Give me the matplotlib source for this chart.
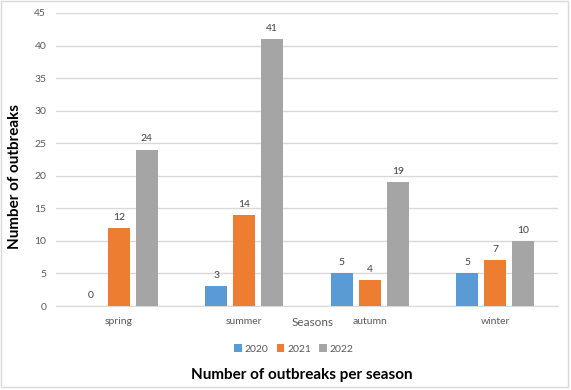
import matplotlib
matplotlib.use("Agg")
import matplotlib.pyplot as plt
import numpy as np
from matplotlib.patches import Rectangle

plt.rcParams['font.family'] = ['Lato', 'DejaVu Sans']

seasons = ["spring", "summer", "autumn", "winter"]
years = ["2020", "2021", "2022"]
v2020 = [0, 3, 5, 5]
v2021 = [12, 14, 4, 7]
v2022 = [24, 41, 19, 10]
series = [v2020, v2021, v2022]
colors = ["#5B9BD5", "#ED7D31", "#A5A5A5"]

W, H = 571, 390
fig = plt.figure(figsize=(W / 100, H / 100), dpi=100)
ax = fig.add_axes([56 / W, 1 - 306 / H, (558 - 56) / W, (306 - 13) / H])

x = np.arange(len(seasons))
step = 0.223
width = 0.175
for i, (vals, c, yr) in enumerate(zip(series, colors, years)):
    pos = x + (i - 1) * step
    bars = ax.bar(pos, vals, width=width, color=c, label=yr, zorder=3)
    for p, v in zip(pos, vals):
        ax.annotate(str(v), (p, v), xytext=(0, 4.5), textcoords="offset points",
                    ha="center", va="bottom", fontsize=7.5, color="#404040")

ax.set_xlim(-0.5, len(seasons) - 0.5)
ax.set_ylim(0, 45)
ax.set_yticks(np.arange(0, 46, 5))
ax.set_xticks(x)
ax.set_xticklabels(seasons)
ax.yaxis.grid(True, color="#D9D9D9", linewidth=1, zorder=0)
ax.set_axisbelow(True)
for s in ["top", "right", "left"]:
    ax.spines[s].set_visible(False)
ax.spines["bottom"].set_color("#D9D9D9")
ax.tick_params(axis="both", length=0, colors="#595959", labelsize=7.5)
ax.tick_params(axis="x", pad=8)
ax.tick_params(axis="y", pad=7)

fig.text(15 / W, 1 - 177 / H, "Number of outbreaks", rotation=90, ha="center", va="center",
         fontsize=11, fontweight="bold", color="black")
fig.text(313 / W, 1 - 323 / H, "Seasons", ha="center", va="center", fontsize=8.5, color="#595959")
fig.text(302 / W, 1 - 375 / H, "Number of outbreaks per season", ha="center", va="center",
         fontsize=11, fontweight="bold", color="black")

handles, labels = ax.get_legend_handles_labels()
fig.legend(handles, labels, loc="center", bbox_to_anchor=(294 / W, 1 - 349 / H), ncol=3,
           frameon=False, fontsize=7.5, handlelength=0.7, handleheight=0.7,
           handletextpad=0.3, columnspacing=0.8, labelcolor="#595959")

fig.patches.append(Rectangle((1 / W, 1 - 387 / H), 567 / W, 386 / H, transform=fig.transFigure,
                             fill=False, edgecolor="#D9D9D9", linewidth=1))

fig.savefig("out.png", dpi=100)
